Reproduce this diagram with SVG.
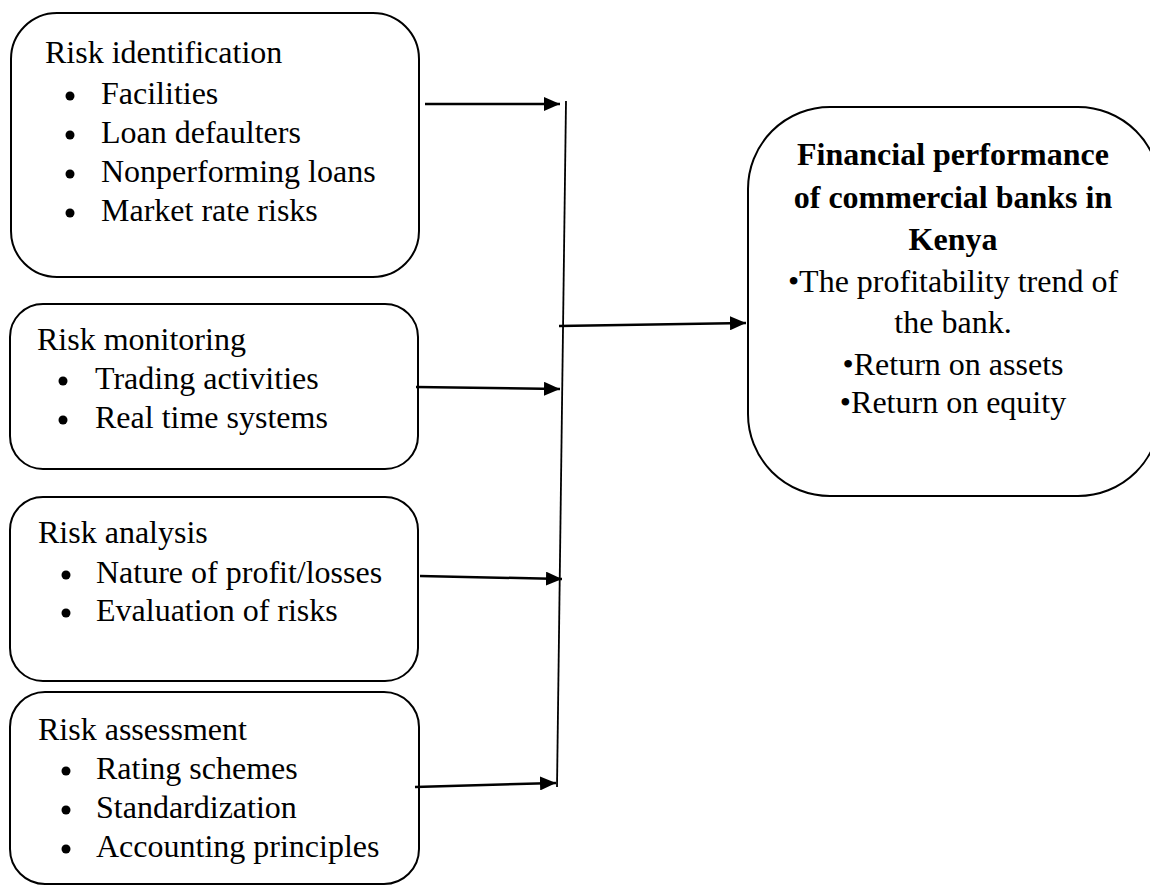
<svg xmlns="http://www.w3.org/2000/svg" width="1150" height="886" viewBox="0 0 1150 886">
<defs>
<marker id="ah" markerUnits="userSpaceOnUse" markerWidth="18" markerHeight="14" refX="16" refY="7" orient="auto">
<path d="M0,0 L16,7 L0,14 Z" fill="#000"/>
</marker>
<style>
.box{fill:#fff;stroke:#000;stroke-width:2}
.t{font-family:"Liberation Serif","Times New Roman",serif;font-size:32px;fill:#000}
.b{font-weight:bold}
.c{text-anchor:middle}
.ar{stroke:#000;stroke-width:2.5;fill:none;marker-end:url(#ah)}
.ln{stroke:#000;stroke-width:1.8;fill:none}
</style>
</defs>
<rect width="1150" height="886" fill="#fff"/>
<g id="n1">
<rect class="box" x="11" y="13" width="408" height="264" rx="46" ry="46"/>
<text class="t" x="45" y="63">Risk identification</text>
<circle cx="70" cy="96" r="4.5"/><text class="t" x="101" y="104">Facilities</text>
<circle cx="70" cy="135" r="4.5"/><text class="t" x="101" y="143">Loan defaulters</text>
<circle cx="70" cy="174" r="4.5"/><text class="t" x="101" y="182">Nonperforming loans</text>
<circle cx="70" cy="213" r="4.5"/><text class="t" x="101" y="221">Market rate risks</text>
</g>
<g id="n2">
<rect class="box" x="10" y="304" width="408" height="165" rx="33" ry="33"/>
<text class="t" x="37" y="350">Risk monitoring</text>
<circle cx="63" cy="381" r="4.5"/><text class="t" x="95" y="389">Trading activities</text>
<circle cx="63" cy="420" r="4.5"/><text class="t" x="95" y="428">Real time systems</text>
</g>
<g id="n3">
<rect class="box" x="10" y="497" width="408" height="184" rx="33" ry="33"/>
<text class="t" x="38" y="543">Risk analysis</text>
<circle cx="66" cy="575" r="4.5"/><text class="t" x="96" y="583">Nature of profit/losses</text>
<circle cx="66" cy="613" r="4.5"/><text class="t" x="96" y="621">Evaluation of risks</text>
</g>
<g id="n4">
<rect class="box" x="10" y="692" width="409" height="192" rx="35" ry="35"/>
<text class="t" x="38" y="740">Risk assessment</text>
<circle cx="66" cy="771" r="4.5"/><text class="t" x="96" y="779">Rating schemes</text>
<circle cx="66" cy="810" r="4.5"/><text class="t" x="96" y="818">Standardization</text>
<circle cx="66" cy="849" r="4.5"/><text class="t" x="96" y="857">Accounting principles</text>
</g>
<g id="n5">
<rect class="box" x="748" y="107" width="412" height="389" rx="82" ry="82"/>
<text class="t b c" x="953" y="165">Financial performance</text>
<text class="t b c" x="953" y="208">of commercial banks in</text>
<text class="t b c" x="953" y="250">Kenya</text>
<text class="t c" x="953" y="292">•The profitability trend of</text>
<text class="t c" x="953" y="333">the bank.</text>
<text class="t c" x="953" y="375">•Return on assets</text>
<text class="t c" x="953" y="413">•Return on equity</text>
</g>
<g id="connectors">
<line class="ln" x1="566" y1="101" x2="557" y2="787"/>
<line class="ar" x1="425" y1="104" x2="560" y2="104"/>
<line class="ar" x1="416" y1="387" x2="560" y2="389"/>
<line class="ar" x1="420" y1="576" x2="562" y2="579"/>
<line class="ar" x1="415" y1="787" x2="556" y2="783"/>
<line class="ar" x1="559" y1="326" x2="746" y2="323"/>
</g>
</svg>
